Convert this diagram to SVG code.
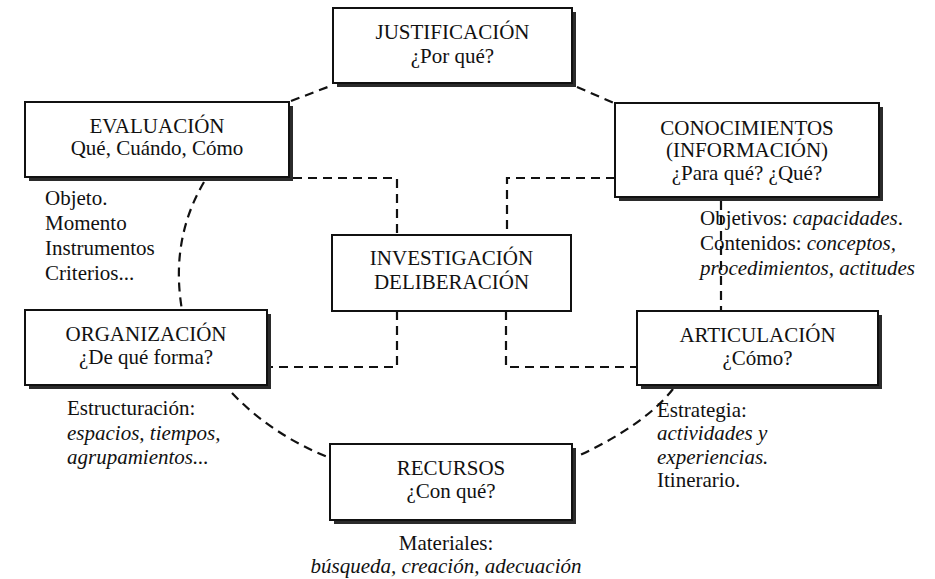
<svg xmlns="http://www.w3.org/2000/svg" width="935" height="579" viewBox="0 0 935 579">
<style>
  text { font-family: "Liberation Serif", "Times New Roman", serif; font-size: 21px; fill: #111; }
  .c { text-anchor: middle; }
  .i { font-style: italic; }
  .box { fill: #fff; stroke: #111; stroke-width: 2; }
  .sh { fill: #2b2b2b; }
  .dash { fill: none; stroke: #111; stroke-width: 2.2; stroke-dasharray: 9 6; }
</style>
<rect width="935" height="579" fill="#fff"/>
<g id="connectors">
  <path class="dash" d="M291,101 L333,85"/>
  <path class="dash" d="M577,87 L614,103"/>
  <path class="dash" d="M204,182 Q170,240 182,310"/>
  <path class="dash" d="M232,393 Q272,435 330,458"/>
  <path class="dash" d="M673,389 Q645,425 576,457"/>
  <path class="dash" d="M721,201 L721,311"/>
  <path class="dash" d="M293,178 H397 V235"/>
  <path class="dash" d="M615,178 H507 V235"/>
  <path class="dash" d="M397,311 V367 H271"/>
  <path class="dash" d="M506,311 V367 H637"/>
</g>
<g id="justificacion">
  <rect class="sh" x="337" y="12" width="239" height="75"/>
  <rect class="box" x="333" y="8" width="239" height="75"/>
  <text class="c" x="452.5" y="39">JUSTIFICACIÓN</text>
  <text class="c" x="452.5" y="63">¿Por qué?</text>
</g>
<g id="evaluacion">
  <rect class="sh" x="29" y="106" width="264" height="75"/>
  <rect class="box" x="25" y="102" width="264" height="75"/>
  <text class="c" x="157" y="133">EVALUACIÓN</text>
  <text class="c" x="157" y="155">Qué, Cuándo, Cómo</text>
  <text x="45" y="205">Objeto.</text>
  <text x="45" y="230">Momento</text>
  <text x="45" y="255">Instrumentos</text>
  <text x="45" y="280">Criterios...</text>
</g>
<g id="conocimientos">
  <rect class="sh" x="619" y="107" width="264" height="94"/>
  <rect class="box" x="615" y="103" width="264" height="94"/>
  <text class="c" x="747" y="135">CONOCIMIENTOS</text>
  <text class="c" x="747" y="157">(INFORMACIÓN)</text>
  <text class="c" x="747" y="180">¿Para qué? ¿Qué?</text>
  <text x="700" y="225">Objetivos: <tspan class="i">capacidades</tspan>.</text>
  <text x="700" y="250">Contenidos: <tspan class="i">conceptos,</tspan></text>
  <text x="700" y="275" class="i">procedimientos, actitudes</text>
</g>
<g id="investigacion">
  <rect class="box" x="332" y="235" width="239" height="76"/>
  <text class="c" x="451.5" y="265">INVESTIGACIÓN</text>
  <text class="c" x="451.5" y="289">DELIBERACIÓN</text>
</g>
<g id="organizacion">
  <rect class="sh" x="29" y="314" width="242" height="75"/>
  <rect class="box" x="25" y="310" width="242" height="75"/>
  <text class="c" x="146" y="341">ORGANIZACIÓN</text>
  <text class="c" x="146" y="364">¿De qué forma?</text>
  <text x="67" y="415">Estructuración:</text>
  <text x="67" y="440" class="i">espacios, tiempos,</text>
  <text x="67" y="464" class="i">agrupamientos...</text>
</g>
<g id="articulacion">
  <rect class="sh" x="641" y="315" width="241" height="74"/>
  <rect class="box" x="637" y="311" width="241" height="74"/>
  <text class="c" x="757.5" y="342">ARTICULACIÓN</text>
  <text class="c" x="757.5" y="365">¿Cómo?</text>
  <text x="657" y="417">Estrategia:</text>
  <text x="657" y="440" class="i">actividades y</text>
  <text x="657" y="464" class="i">experiencias.</text>
  <text x="657" y="487">Itinerario.</text>
</g>
<g id="recursos">
  <rect class="sh" x="334" y="448" width="242" height="76"/>
  <rect class="box" x="330" y="444" width="242" height="76"/>
  <text class="c" x="451" y="475">RECURSOS</text>
  <text class="c" x="451" y="498">¿Con qué?</text>
  <text class="c" x="446" y="550">Materiales:</text>
  <text class="c i" x="446" y="573">búsqueda, creación, adecuación</text>
</g>
</svg>
